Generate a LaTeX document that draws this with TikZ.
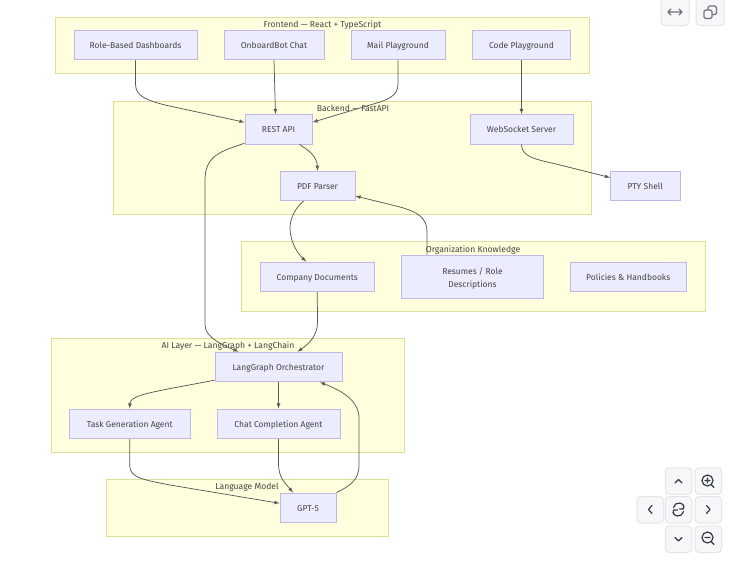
\documentclass[tikz,border=0pt]{standalone}
\usepackage{fontspec}
\setmainfont{Fira Sans}
\usetikzlibrary{arrows,shapes}
\definecolor{nodefill}{HTML}{ECECFF}
\definecolor{nodeline}{HTML}{C3B5E6}
\definecolor{groupfill}{HTML}{FFFFDE}
\definecolor{groupline}{HTML}{DDDD9C}
\definecolor{textcol}{HTML}{444444}
\definecolor{btnfill}{HTML}{F6F7F9}
\definecolor{btnline}{HTML}{E3E5E8}
\definecolor{iconcol}{HTML}{333A40}
\tikzset{
	box/.style={draw=nodeline,fill=nodefill,line width=1pt,minimum height=29.5pt,inner sep=0pt,align=center,text=textcol,text height=9pt,text depth=2pt,font=\fontsize{8.5}{13}\selectfont},
	group/.style={draw=groupline,fill=groupfill,line width=1pt,inner sep=0pt},
	grouplabel/.style={text=textcol,inner sep=0pt,text height=9pt,text depth=2pt,font=\fontsize{8.6}{12}\selectfont},
	edge/.style={draw=black!65,line width=0.75pt,-latex},
	btn/.style={draw=btnline,fill=btnfill,line width=1pt,rounded corners=4pt,minimum width=26.5pt,minimum height=26.5pt,inner sep=0pt},
	icon/.style={draw=iconcol,line width=1.2pt,line cap=round,line join=round}
}
\begin{document}
\begin{tikzpicture}[x=1pt,y=-1pt]
		
		\path[use as bounding box,clip] (0,0) rectangle (747,573);
		\fill[white] (0,0) rectangle (747,573);
		
		% groups
		\node[group,minimum width=534pt,minimum height=56.5pt] (frontend) at (322.75,45.25) {};
		\node[group,minimum width=478pt,minimum height=113pt] (backend) at (352.75,157.5) {};
		\node[group,minimum width=464pt,minimum height=69.5pt] (org) at (473,276.25) {};
		\node[group,minimum width=353.5pt,minimum height=113.5pt] (ailayer) at (227.75,395.25) {};
		\node[group,minimum width=281.5pt,minimum height=57pt] (langmodel) at (247.25,507.5) {};
		
		\node[grouplabel] (frontendlabel) at (322.5,24) {Frontend — React + TypeScript};
		\node[grouplabel] (backendlabel) at (353,108) {Backend — FastAPI};
		\node[grouplabel] (orglabel) at (473,249) {Organization Knowledge};
		\node[grouplabel] (ailabel) at (228,345) {AI Layer — LangGraph + LangChain};
		\node[grouplabel] (langlabel) at (247,486) {Language Model};
		
		% nodes
		\node[box,minimum width=123pt] (dash) at (135.5,45) {Role-Based Dashboards};
		\node[box,minimum width=100pt] (chat) at (274,45) {OnboardBot Chat};
		\node[box,minimum width=94pt] (mail) at (398,45) {Mail Playground};
		\node[box,minimum width=98.5pt] (code) at (521.5,45) {Code Playground};
		
		\node[box,minimum width=67pt] (rest) at (278.5,129.25) {REST API};
		\node[box,minimum width=103pt] (socket) at (521.5,129.25) {WebSocket Server};
		\node[box,minimum width=75pt] (pdf) at (317.5,186) {PDF Parser};
		\node[box,minimum width=69.5pt] (pty) at (645.25,186) {PTY Shell};
		
		\node[box,minimum width=114.5pt] (docs) at (317.25,276.75) {Company Documents};
		\node[box,minimum width=142pt,minimum height=43pt,text height=,text depth=] (resumes) at (472.5,276.5) {\rule{0pt}{11pt}Resumes / Role\\Descriptions};
		\node[box,minimum width=115.5pt] (policies) at (628.25,276.75) {Policies \& Handbooks};
		
		\node[box,minimum width=127pt] (orch) at (278.5,367) {LangGraph Orchestrator};
		\node[box,minimum width=120.5pt] (task) at (129.75,423.75) {Task Generation Agent};
		\node[box,minimum width=123pt] (complete) at (278.5,423.75) {Chat Completion Agent};
		\node[box,minimum width=56pt] (gpt) at (308,507.75) {GPT-5};
		
		% connectors
		\draw[edge] (dash.south) -- (135.5,84) .. controls (135.5,96) and (146,100) .. (165,105) -- ([yshift=7pt]rest.west);
		\draw[edge] (chat.south) -- ([xshift=-3pt]rest.north);
		\draw[edge] (mail.south) -- (398,84) .. controls (398,96) and (388,100) .. (370,105) -- ([yshift=7pt]rest.east);
		\draw[edge] (code.south) -- (socket.north);
		\draw[edge] (socket.south) .. controls (521,158) and (540,160) .. (560,165) -- ([yshift=8.5pt]pty.west);
		\draw[edge] ([xshift=21pt]rest.south) .. controls (308,150) and (317,156) .. (pdf.north);
		\draw[edge] ([yshift=-14pt]rest.west) .. controls (222,151) and (205,155) .. (205,180) -- (205,325) .. controls (205,338) and (225,346) .. ([xshift=-40pt]orch.north);
		\draw[edge] ([xshift=-14pt]pdf.south) .. controls (296,207) and (290,218) .. (290,228) .. controls (290,242) and (298,254) .. ([xshift=-11pt]docs.north);
		\draw[edge] ([xshift=-45.5pt]resumes.north) -- (427,232) .. controls (427,218) and (418,212) .. (400,207) -- ([yshift=-10pt]pdf.east);
		\draw[edge] (docs.south) -- (317.5,322) .. controls (317.5,335) and (310,343) .. ([xshift=19pt]orch.north);
		\draw[edge] ([yshift=2pt]orch.south west) -- (173,388) .. controls (148,393) and (130,396) .. (task.north);
		\draw[edge] (orch.south) -- (complete.north);
		\draw[edge] (task.south) -- (129.75,466) .. controls (129.75,478) and (145,480) .. (170,485) -- ([yshift=4.5pt]gpt.west);
		\draw[edge] (complete.south) -- (278.5,464) .. controls (278.5,478) and (286,484) .. ([xshift=-15pt]gpt.north);
		\draw[edge] (gpt.north east) .. controls (350,486) and (359,480) .. (359,465) -- (359,418) .. controls (359,402) and (345,392) .. ([xshift=41.5pt]orch.south);
		
		% viewer buttons
		\node[btn,minimum width=28pt,minimum height=32pt] (fit) at (675,9.5) {};
		\node[btn,minimum width=28pt,minimum height=32pt] (copy) at (710,9.5) {};
		\node[btn] (up) at (678.5,481) {};
		\node[btn] (zoomin) at (708.25,481) {};
		\node[btn] (left) at (650.25,509.75) {};
		\node[btn] (reset) at (678.5,509.75) {};
		\node[btn] (right) at (708.25,509.75) {};
		\node[btn] (down) at (678.5,539.25) {};
		\node[btn] (zoomout) at (708.25,539.25) {};
		
		\draw[icon,draw=iconcol!70] (671,9) -- (668,12) -- (671,15) (668,12) -- (682,12) (679,9) -- (682,12) -- (679,15);
		\draw[icon,draw=iconcol!70,rounded corners=1.5pt] (704,10) rectangle (712,18.5) (708,10) -- (708,6) -- (716.5,6) -- (716.5,14.5) -- (712,14.5);
		
		\draw[icon] (675,483) -- (678.5,479.5) -- (682,483);
		\draw[icon] (652,505.5) -- (648.5,509.5) -- (652,513.5);
		\draw[icon] (706.5,505.5) -- (710,509.5) -- (706.5,513.5);
		\draw[icon] (675,537.5) -- (678.5,541) -- (682,537.5);
		
		\draw[icon] (707.5,480.5) circle (5.5pt) (711.5,485) -- (714,487.5) (705,480.5) -- (710,480.5) (707.5,478) -- (707.5,483);
		\draw[icon] (707.5,537.5) circle (5.5pt) (711.5,542) -- (714,544.5) (705,537.5) -- (710,537.5);
		
		\draw[icon] (673.5,507.5) arc (170:20:5.5pt) (683.5,505) -- (683.5,509) -- (679.5,509);
		\draw[icon] (683.5,511.5) arc (-10:-160:5.5pt) (673.5,514) -- (673.5,510) -- (677.5,510);
		
		\end{tikzpicture}
\end{document}
